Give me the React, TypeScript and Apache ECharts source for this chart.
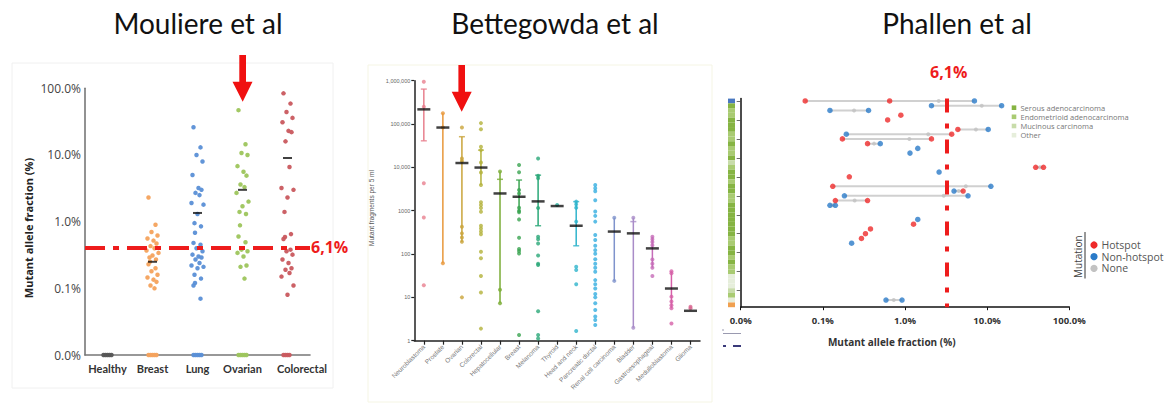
import React, { useEffect, useRef } from "react";
import * as echarts from "echarts";

// ---------- Panel 1: Mouliere et al ----------
const mCats = ["Healthy", "Breast", "Lung", "Ovarian", "Colorectal"];
const mColors = ["#555555", "#f4a25c", "#5a8fd6", "#9dc55c", "#c9585e"];
const mHealthy: number[] = [];
const mBreast = [2.3, 0.9, 0.7, 0.62, 0.56, 0.52, 0.47, 0.43, 0.4, 0.37, 0.34, 0.31, 0.29, 0.27, 0.25, 0.23, 0.2, 0.18, 0.16, 0.145, 0.135, 0.125, 0.11, 0.1];
const mLung = [26, 13, 10, 8, 5, 3.2, 3.0, 2.7, 2.5, 1.9, 1.8, 1.3, 0.95, 0.85, 0.68, 0.48, 0.45, 0.4, 0.36, 0.32, 0.3, 0.29, 0.27, 0.24, 0.22, 0.21, 0.2, 0.16, 0.14, 0.12, 0.11, 0.07];
const mOvarian = [47, 14.5, 10.7, 10, 6.8, 5.6, 4.9, 3.6, 3.3, 2.7, 2.0, 1.7, 1.4, 1.3, 0.88, 0.6, 0.49, 0.38, 0.36, 0.34, 0.3, 0.22, 0.21, 0.14];
const mColorectal = [84, 59, 44, 36, 31, 23, 22, 16, 6.6, 3.2, 3.0, 2.3, 1.4, 0.65, 0.59, 0.55, 0.38, 0.36, 0.32, 0.27, 0.24, 0.2, 0.19, 0.17, 0.15, 0.11, 0.08];
const mValues = [mHealthy, mBreast, mLung, mOvarian, mColorectal];
const mZeroCounts = [5, 5, 5, 5, 4];
const mMedians: (number | null)[] = [null, 0.25, 1.35, 3.0, 9.0];
const mAxisMin = 0.01;
const mAxisMax = 100;
const mThreshold = 0.41;
const thresholdLabel = "6,1%";

// ---------- Panel 2: Bettegowda et al ----------
const bCats = ["Neuroblastoma", "Prostate", "Ovarian", "Colorectal", "Hepatocellular", "Breast", "Melanoma", "Thyroid", "Head and neck", "Pancreatic ductal", "Renal cell carcinoma", "Bladder", "Gastroesophageal", "Medulloblastoma", "Glioma"];
const bColors = ["#e8808e", "#e8973a", "#c9a43a", "#b3b23a", "#7aac35", "#3aa450", "#2aa878", "#2ab0a0", "#30b4cc", "#35aee0", "#7f93cc", "#a98cc8", "#c56cb8", "#d660a8", "#d8648e"];
const bDots = [
  [950000, 250000, 4300, 700, 19],
  [177000, 83000, 61],
  [83000, 16000, 14000, 427, 300, 240, 193, 10],
  [105000, 76000, 30000, 25000, 13000, 7600, 3900, 1560, 1350, 1150, 950, 450, 390, 330, 285, 113, 80, 31, 13, 1.9],
  [8000, 15, 7.3],
  [11300, 7700, 3000, 2500, 1170, 1000, 920, 630, 237, 130, 117, 103, 1.35],
  [16000, 6400, 5600, 1150, 250, 220, 175, 92, 60, 56, 4.8, 1.35, 1.13],
  [1350],
  [1620, 1400, 1170, 560, 51, 43, 20, 1.67],
  [3900, 3300, 2800, 1750, 960, 760, 560, 275, 210, 155, 123, 102, 76, 60, 48, 39, 25, 20, 16, 12, 10, 7.3, 5.1, 3.6, 3.0, 2.3],
  [690, 24],
  [690, 2.0],
  [250, 220, 190, 160, 75, 60, 48, 31],
  [40, 36, 10.4, 8, 6.6, 5.6, 2.5],
  [6.1, 5.6],
];
const bMedians: (number | null)[] = [218000, 83000, 12600, 9900, 2500, 2100, 1640, 1280, 450, null, 330, 300, 135, 16, 4.9];
const bLineLow: (number | null)[] = [41000, 61, 190, 3900, 7.3, 900, 450, null, 155, null, 24, 2.0, 48, 5.6, null];
const bLineHigh: (number | null)[] = [640000, 177000, 51000, 25000, 8000, 5100, 6600, null, 1620, null, 690, 690, 250, 40, null];
const bCaps: number[][] = [[640000, 41000], [], [51000], [25000], [5300], [5100], [6600, 450], [], [1620, 155], [], [], [560], [], [], []];

// ---------- Panel 3: Phallen et al ----------
const pRowTypes = ["B", "S", "E", "E", "S", "S", "S", "E", "E", "S", "E", "E", "S", "M", "E", "S", "S", "E", "S", "S", "E", "E", "S", "S", "S", "S", "S", "S", "S", "E", "E", "S", "S", "E", "S", "E", "E", "O", "O", "O", "M", "E", "O", "R"];
const pHotspot = [[0.061, 0], [0.65, 0], [0.89, 3], [0.615, 4], [4.4, 6], [3.7, 7], [0.173, 8], [2.1, 8], [0.35, 9], [39, 14], [48.5, 14], [0.21, 16], [0.132, 18], [5.1, 19], [0.142, 21], [0.35, 21], [1.27, 26], [0.38, 27], [0.33, 28], [0.295, 29]];
const pNonHotspot = [[7.0, 0], [2.1, 1], [15, 1], [0.122, 2], [0.36, 2], [10.3, 6], [0.193, 7], [0.5, 9], [1.43, 10], [1.15, 11], [2.6, 15], [11.1, 18], [3.95, 19], [0.183, 20], [5.85, 20], [0.122, 22], [0.142, 22], [1.43, 25], [0.224, 30], [0.587, 42], [0.92, 42]];
const pNone = [[2.57, 0], [8.6, 1], [0.24, 2], [7.3, 6], [1.92, 7], [1.13, 8], [0.42, 9], [44, 14], [5.5, 18], [4.5, 19], [2.96, 20], [0.244, 21], [0.132, 22], [0.73, 42]];
const pThreshold = 3.25;
const pTypeNames = ["Serous adenocarcinoma", "Endometrioid adenocarcinoma", "Mucinous carcinoma", "Other"];
const pMutationNames = ["Hotspot", "Non-hotspot", "None"];

const typeColor: Record<string, string> = {
  S: "#86b443",
  E: "#a9cb72",
  M: "#c8dcaa",
  O: "#e6eedb",
  B: "#4a78c0",
  R: "#f0a050",
};
const RED = "#ee1c1c";
const HOT = "#ee2a2a";
const NONHOT = "#2a7ac8";
const NONE = "#c2c2c2";

const jitter = [-4, 3, -1, 5, -5, 1, 4, -2, 2, -6, 6, 0, -3, 3.5, -2.5];
const zeroJit = [-4, -2, 0, 2, 4];

function pctLabel(v: number) {
  return Number(v).toFixed(1) + "%";
}

function buildOption() {
  const series: any[] = [];

  // Panel 1
  mValues.forEach((vals, i) => {
    const data: any[] = vals.map((v, k) => ({ value: [i, v], symbolOffset: [jitter[k % jitter.length], 0] }));
    for (let z = 0; z < mZeroCounts[i]; z++) {
      data.push({ value: [i, mAxisMin], symbolOffset: [zeroJit[z % zeroJit.length], 0] });
    }
    series.push({
      type: "scatter",
      xAxisIndex: 0,
      yAxisIndex: 0,
      symbolSize: 4.5,
      itemStyle: { color: mColors[i], opacity: 0.95 },
      data,
      z: 2,
    });
  });
  series.push({
    type: "scatter",
    xAxisIndex: 0,
    yAxisIndex: 0,
    symbol: "rect",
    symbolSize: [9, 2],
    itemStyle: { color: "#111" },
    z: 4,
    data: mMedians.map((m, i) => (m == null ? null : [i, m])).filter((d) => d),
    markLine: {
      silent: true,
      symbol: ["none", "none"],
      lineStyle: { color: RED, width: 4, type: [20, 8, 6, 8], cap: "butt" },
      label: {
        show: true,
        position: "end",
        formatter: thresholdLabel,
        color: RED,
        fontSize: 16,
        fontWeight: "bold",
        fontFamily: "Open Sans",
        distance: 1,
      },
      data: [{ yAxis: mThreshold }],
    },
  });

  // Panel 2
  bCats.forEach((c, i) => {
    const lo = bLineLow[i];
    const hi = bLineHigh[i];
    if (lo != null && hi != null) {
      series.push({
        type: "line",
        xAxisIndex: 1,
        yAxisIndex: 1,
        symbol: "none",
        lineStyle: { color: bColors[i], width: 1.5 },
        data: [[i, lo], [i, hi]],
        z: 1,
      });
    }
    series.push({
      type: "scatter",
      xAxisIndex: 1,
      yAxisIndex: 1,
      symbolSize: 4,
      itemStyle: { color: bColors[i] },
      data: bDots[i].map((v) => [i, v]),
      z: 2,
    });
  });
  const capData: any[] = [];
  bCaps.forEach((caps, i) => caps.forEach((c) => capData.push({ value: [i, c], itemStyle: { color: bColors[i] } })));
  series.push({
    type: "scatter",
    xAxisIndex: 1,
    yAxisIndex: 1,
    symbol: "rect",
    symbolSize: [6, 1.5],
    data: capData,
    z: 3,
  });
  series.push({
    type: "scatter",
    xAxisIndex: 1,
    yAxisIndex: 1,
    symbol: "rect",
    symbolSize: [13, 2.5],
    itemStyle: { color: "#111" },
    data: bMedians.map((m, i) => (m == null ? null : [i, m])).filter((d) => d),
    z: 4,
  });

  // Panel 3 connectors
  const rowMap: Record<number, number[]> = {};
  [...pHotspot, ...pNonHotspot, ...pNone].forEach(([x, r]) => {
    (rowMap[r] = rowMap[r] || []).push(x);
  });
  Object.keys(rowMap).forEach((k) => {
    const xs = rowMap[+k];
    if (xs.length < 2) return;
    series.push({
      type: "line",
      xAxisIndex: 2,
      yAxisIndex: 2,
      symbol: "none",
      lineStyle: { color: "#d0d0d0", width: 2 },
      data: [[Math.min(...xs), +k], [Math.max(...xs), +k]],
      z: 1,
    });
  });
  series.push({
    type: "scatter",
    xAxisIndex: 2,
    yAxisIndex: 2,
    symbolSize: 4,
    itemStyle: { color: NONE },
    data: pNone,
    z: 2,
  });
  series.push({
    type: "scatter",
    xAxisIndex: 2,
    yAxisIndex: 2,
    symbolSize: 5.5,
    itemStyle: { color: NONHOT },
    data: pNonHotspot,
    z: 3,
  });
  series.push({
    type: "scatter",
    xAxisIndex: 2,
    yAxisIndex: 2,
    symbolSize: 5.5,
    itemStyle: { color: HOT },
    data: pHotspot,
    z: 3,
    markLine: {
      silent: true,
      symbol: ["none", "none"],
      lineStyle: { color: RED, width: 4, type: [14, 11, 5, 11], cap: "butt" },
      label: { show: false },
      data: [{ xAxis: pThreshold }],
    },
  });
  // strip
  series.push({
    type: "bar",
    xAxisIndex: 3,
    yAxisIndex: 3,
    barCategoryGap: "0%",
    data: pRowTypes.map((t) => ({ value: 1, itemStyle: { color: typeColor[t] } })),
    z: 1,
  });

  const rowNames = pRowTypes.map((_, i) => String(i));

  const graphic: any[] = [
    { type: "rect", shape: { x: 12, y: 63, width: 321, height: 325 }, style: { fill: "none", stroke: "#f0f0f0", lineWidth: 1 } },
    { type: "rect", shape: { x: 368, y: 65, width: 344, height: 337 }, style: { fill: "none", stroke: "#f5f5e4", lineWidth: 1 } },
    { type: "text", x: 198, y: 23, style: { text: "Mouliere et al", fill: "#111", fontSize: 28, fontFamily: "Lato", textAlign: "center", textVerticalAlign: "middle" } },
    { type: "text", x: 555, y: 23, style: { text: "Bettegowda et al", fill: "#111", fontSize: 28, fontFamily: "Lato", textAlign: "center", textVerticalAlign: "middle" } },
    { type: "text", x: 957, y: 23, style: { text: "Phallen et al", fill: "#111", fontSize: 28, fontFamily: "Lato", textAlign: "center", textVerticalAlign: "middle" } },
    {
      type: "polygon",
      shape: { points: [[239.3, 55], [246, 55], [246, 81.7], [252.5, 81.7], [242.7, 101.7], [232.5, 81.7], [239.3, 81.7]] },
      style: { fill: "#f01010" },
    },
    {
      type: "polygon",
      shape: { points: [[458.4, 65], [465, 65], [465, 91.7], [471.7, 91.7], [461.7, 111.7], [451.7, 91.7], [458.4, 91.7]] },
      style: { fill: "#f01010" },
    },
    { type: "text", x: 28.5, y: 228, rotation: Math.PI / 2, style: { text: "Mutant allele fraction (%)", fill: "#222", fontSize: 11, fontWeight: "bold", fontFamily: "Open Sans", textAlign: "center", textVerticalAlign: "middle" } },
    { type: "text", x: 371, y: 208, rotation: Math.PI / 2, style: { text: "Mutant fragments per 5 ml", fill: "#555", fontSize: 6.5, fontFamily: "Liberation Sans", textAlign: "center", textVerticalAlign: "middle" } },
    { type: "text", x: 891.7, y: 342, style: { text: "Mutant allele fraction (%)", fill: "#333", fontSize: 10, fontWeight: "bold", fontFamily: "Open Sans", textAlign: "center", textVerticalAlign: "middle" } },
    { type: "text", x: 948.7, y: 72, style: { text: thresholdLabel, fill: RED, fontSize: 16, fontWeight: "bold", fontFamily: "Open Sans", textAlign: "center", textVerticalAlign: "middle" } },
    // mutation legend
    { type: "text", x: 1077.5, y: 256.7, rotation: Math.PI / 2, style: { text: "Mutation", fill: "#444", fontSize: 10, fontFamily: "Open Sans", textAlign: "center", textVerticalAlign: "middle" } },
    { type: "line", shape: { x1: 1085, y1: 232, x2: 1085, y2: 278.5 }, style: { stroke: "#333", lineWidth: 1 } },
    // odd marks bottom-left of panel 3
    { type: "line", shape: { x1: 723, y1: 333.5, x2: 741, y2: 333.5 }, style: { stroke: "#9a9ab0", lineWidth: 1 } },
    { type: "line", shape: { x1: 723, y1: 329, x2: 723, y2: 331 }, style: { stroke: "#9a9ab0", lineWidth: 1 } },
    { type: "rect", shape: { x: 723, y: 345, width: 3, height: 2 }, style: { fill: "#3a3a7a" } },
    { type: "rect", shape: { x: 733, y: 345, width: 8, height: 2 }, style: { fill: "#3a3a7a" } },
  ];
  const legendTypeColors = [typeColor.S, typeColor.E, typeColor.M, typeColor.O];
  const legendTypeY = [107.7, 116.8, 126, 135.2];
  pTypeNames.forEach((n, i) => {
    graphic.push({ type: "rect", shape: { x: 1011.7, y: legendTypeY[i] - 2.3, width: 4.6, height: 4.6 }, style: { fill: legendTypeColors[i] } });
    graphic.push({ type: "text", x: 1020.5, y: legendTypeY[i], style: { text: n, fill: "#777", fontSize: 7.5, fontFamily: "Open Sans", textAlign: "left", textVerticalAlign: "middle" } });
  });
  const mutColors = [HOT, NONHOT, NONE];
  const mutY = [245, 256.7, 268.4];
  pMutationNames.forEach((n, i) => {
    graphic.push({ type: "circle", shape: { cx: 1094, cy: mutY[i], r: 3.6 }, style: { fill: mutColors[i] } });
    graphic.push({ type: "text", x: 1101.5, y: mutY[i], style: { text: n, fill: "#555", fontSize: 10.5, fontFamily: "Open Sans", textAlign: "left", textVerticalAlign: "middle" } });
  });

  const catLabelFont = { fontWeight: "bold", fontSize: 11, color: "#333", fontFamily: "Lato" };

  return {
    animation: false,
    backgroundColor: "#ffffff",
    grid: [
      { left: 85, top: 88.3, width: 225, height: 266.7 },
      { left: 414.3, top: 80.7, width: 285.7, height: 260 },
      { left: 740.7, top: 98.6, width: 328.6, height: 208.6 },
      { left: 728, top: 98.6, width: 7, height: 208.6 },
    ],
    xAxis: [
      {
        type: "category",
        gridIndex: 0,
        data: mCats,
        axisLine: { lineStyle: { color: "#777", width: 1.6 } },
        axisTick: { show: false },
        axisLabel: {
          ...catLabelFont,
          margin: 8,
          interval: 0,
          formatter: (v: string) => (v === "Colorectal" ? "{s|" + v + "}" : v),
          rich: { s: { ...catLabelFont, padding: [0, 0, 0, 29] } },
        },
        splitLine: { show: false },
      },
      {
        type: "category",
        gridIndex: 1,
        data: bCats,
        axisLine: { lineStyle: { color: "#222", width: 1.5 } },
        axisTick: { show: true, alignWithLabel: true, length: 4, lineStyle: { color: "#222", width: 1.2 } },
        axisLabel: { rotate: 45, fontSize: 6.5, color: "#777", fontFamily: "Liberation Sans", margin: 5, interval: 0 },
        splitLine: { show: false },
      },
      {
        type: "log",
        gridIndex: 2,
        logBase: 10,
        min: 0.01,
        max: 100,
        axisLine: { show: true, lineStyle: { color: "#111", width: 1.5 } },
        axisTick: { show: true, length: 3, lineStyle: { color: "#111" } },
        axisLabel: { formatter: pctLabel, fontWeight: "bold", fontSize: 9.5, color: "#333", fontFamily: "Open Sans", margin: 8 },
        splitLine: { show: false },
        minorTick: { show: false },
      },
      { type: "value", gridIndex: 3, min: 0, max: 1, show: false, splitLine: { show: false } },
    ],
    yAxis: [
      {
        type: "log",
        gridIndex: 0,
        logBase: 10,
        min: mAxisMin,
        max: mAxisMax,
        axisLine: { show: true, lineStyle: { color: "#777", width: 1.6 } },
        axisTick: { show: false },
        axisLabel: { formatter: pctLabel, fontSize: 12, color: "#444", fontFamily: "Open Sans", margin: 4 },
        splitLine: { show: false },
      },
      {
        type: "log",
        gridIndex: 1,
        logBase: 10,
        min: 1,
        max: 1000000,
        axisLine: { show: true, lineStyle: { color: "#222", width: 1.5 } },
        axisTick: { show: true, length: 3, lineStyle: { color: "#222", width: 1.2 } },
        axisLabel: {
          formatter: (v: number) => {
            const n = Math.round(v);
            return n >= 10000 ? n.toLocaleString("en-US") : String(n);
          },
          fontSize: 5.5,
          color: "#666",
          fontFamily: "Liberation Sans",
          margin: 4,
        },
        splitLine: { show: false },
      },
      {
        type: "category",
        gridIndex: 2,
        data: rowNames,
        inverse: true,
        axisLine: { show: true, lineStyle: { color: "#111", width: 1.5 } },
        axisTick: { show: true, alignWithLabel: true, length: 4, lineStyle: { color: "#444", width: 0.8 } },
        axisLabel: { show: false },
        splitLine: { show: false },
      },
      { type: "category", gridIndex: 3, data: rowNames, inverse: true, show: false },
    ],
    series,
    graphic,
  };
}

export default function App() {
  const ref = useRef<HTMLDivElement>(null);
  useEffect(() => {
    if (!ref.current) return;
    const chart = echarts.init(ref.current, null, { renderer: "svg" });
    chart.setOption(buildOption() as any);
    return () => chart.dispose();
  }, []);
  return (
    <div
      ref={ref}
      style={{ position: "absolute", left: 0, top: 0, width: 1167, height: 405, background: "#fff" }}
    />
  );
}
